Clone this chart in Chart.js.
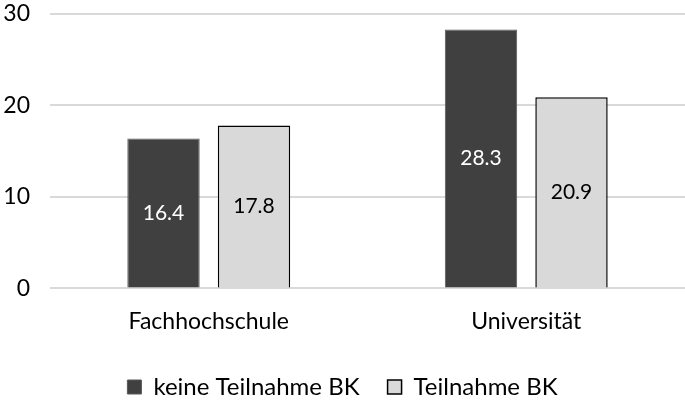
<!DOCTYPE html>
<html>
<head>
<meta charset="utf-8">
<script src="https://cdn.jsdelivr.net/npm/chart.js@4"></script>
<style>
  html, body { margin: 0; padding: 0; background: #fff; }
  #wrap { width: 685px; height: 406px; }
</style>
</head>
<body>
<div id="wrap"><canvas id="chart" width="685" height="406"></canvas></div>
<script>
const categories = ['Fachhochschule', 'Universität'];
const seriesNames = ['keine Teilnahme BK', 'Teilnahme BK'];
const keineTeilnahme = [16.4, 28.3];
const teilnahme = [17.8, 20.9];
const yTicks = [0, 10, 20, 30];

const FONT = 'Lato, "Open Sans", sans-serif';

// Werte mittig in die Balken schreiben
const barLabels = {
    id: 'barLabels',
    afterDatasetsDraw(chart) {
        const ctx = chart.ctx;
        ctx.save();
        ctx.font = '21px ' + FONT;
        ctx.textAlign = 'center';
        ctx.textBaseline = 'middle';
        chart.data.datasets.forEach((ds, i) => {
            const meta = chart.getDatasetMeta(i);
            meta.data.forEach((bar, j) => {
                ctx.fillStyle = i === 0 ? '#ffffff' : '#000000';
                const y = (bar.y + bar.base) / 2;
                ctx.fillText(ds.data[j].toFixed(1), bar.x, y);
            });
        });
        ctx.restore();
    }
};

new Chart(document.getElementById('chart').getContext('2d'), {
    type: 'bar',
    data: {
        labels: categories,
        datasets: [{
            label: seriesNames[0],
            data: keineTeilnahme,
            backgroundColor: '#404040',
            borderColor: '#595959',
            borderWidth: 1,
            categoryPercentage: 0.57,
            barPercentage: 0.8
        }, {
            label: seriesNames[1],
            data: teilnahme,
            backgroundColor: '#d9d9d9',
            borderColor: '#000000',
            borderWidth: 1.5,
            categoryPercentage: 0.57,
            barPercentage: 0.8
        }]
    },
    options: {
        responsive: false,
        animation: false,
        layout: { padding: { top: 0, left: 0, right: 0, bottom: -3 } },
        scales: {
            x: {
                afterFit: axis => { axis.height -= 7; },
                grid: { display: false, drawTicks: false },
                border: { display: false },
                ticks: { color: '#000', font: { family: FONT, size: 23 }, padding: 19 }
            },
            y: {
                min: 0,
                max: 30,
                afterBuildTicks: axis => { axis.ticks = yTicks.map(v => ({ value: v })); },
                afterFit: axis => { axis.width = 50; axis.paddingTop = 14; },
                grid: { color: '#d9d9d9', lineWidth: 2, drawTicks: false },
                border: { display: false },
                ticks: { color: '#000', font: { family: FONT, size: 23 }, padding: 20 }
            }
        },
        plugins: {
            legend: {
                position: 'bottom',
                labels: {
                    color: '#000',
                    font: { family: FONT, size: 24 },
                    boxWidth: 14,
                    boxHeight: 14,
                    padding: 28
                }
            },
            tooltip: { enabled: false }
        }
    },
    plugins: [barLabels]
});
</script>
</body>
</html>
